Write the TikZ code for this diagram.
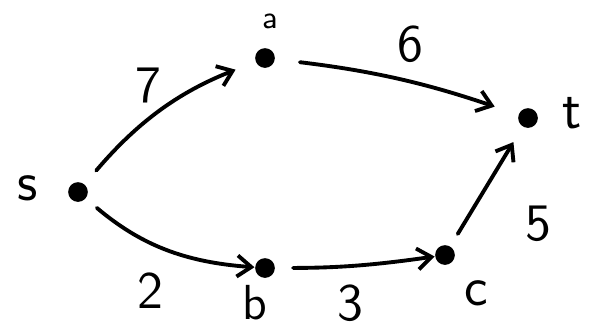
\documentclass[tikz,border=0pt]{standalone}
\usepackage{tikz}
\usetikzlibrary{arrows.meta}

\begin{document}
\begin{tikzpicture}[
    x=0.01cm, y=0.01cm,
    vtx/.style={circle, fill=black, inner sep=0pt, minimum size=5.6pt},
    vlbl/.style={font=\fontsize{16}{18}\selectfont\sffamily},
    wlbl/.style={font=\fontsize{15}{17}\selectfont\sffamily},
    arr/.style={-{Straight Barb[length=4pt, width=6pt]}, line width=1.1pt, line cap=round},
  ]
    \useasboundingbox (0,0) rectangle (606,329);

    % ===== vertices =====
    \node[vtx] (s) at (78, 137) {};
    \node[vtx] (a) at (265, 271) {};
    \node[vtx] (t) at (528, 211) {};
    \node[vtx] (b) at (265, 61) {};
    \node[vtx] (c) at (445, 74) {};

    % vertex names
    \node[vlbl] (sname) at (28, 141) {s};
    \node[font=\fontsize{9}{10}\selectfont\sffamily] (aname) at (270, 308) {a};
    \node[vlbl] (tname) at (572, 216) {t};
    \node[font=\fontsize{14}{16}\selectfont\sffamily] (bname) at (255, 26) {b};
    \node[vlbl] (cname) at (476, 36) {c};

    % ===== edges =====
    \draw[arr, shorten <=5pt, shorten >=6pt] (s) to[bend left=14] (a);
    \draw[arr, shorten <=7pt, shorten >=7pt] (a) to[bend left=6] (t);
    \draw[arr, shorten <=4pt, shorten >=0pt] (s) to[bend right=18] (b);
    \draw[arr, shorten <=5pt, shorten >=0pt] (b) to[bend right=4] (c);
    \draw[arr, shorten <=4pt, shorten >=5pt] (c) -- (t);

    % ===== weights =====
    \node[wlbl] (w7) at (148, 244) {7};
    \node[wlbl] (w6) at (410, 285) {6};
    \node[wlbl] (w2) at (150, 38) {2};
    \node[wlbl] (w3) at (350, 26) {3};
    \node[wlbl] (w5) at (538, 105) {5};

  \end{tikzpicture}
\end{document}
